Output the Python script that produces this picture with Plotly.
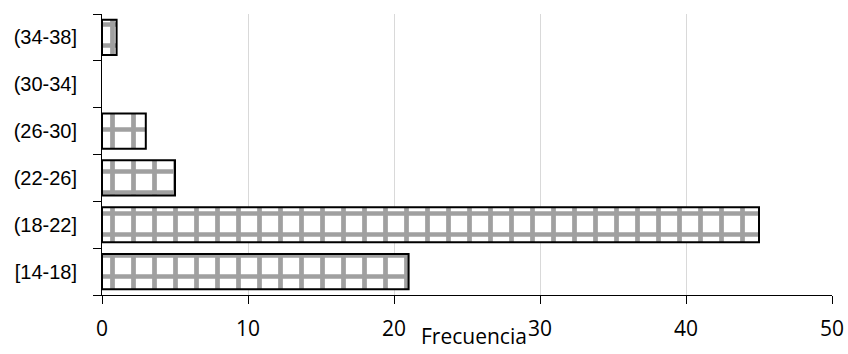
import plotly.graph_objects as go

categories = ["[14-18]", "(18-22]", "(22-26]", "(26-30]", "(30-34]", "(34-38]"]
frecuencia = [21, 45, 5, 3, 0, 1]
x_ticks = [0, 10, 20, 30, 40, 50]

line_widths = [2 if v > 0 else 0 for v in frecuencia]

fig = go.Figure()
fig.add_trace(go.Bar(
    y=categories, x=frecuencia, orientation="h",
    marker=dict(
        color="white",
        line=dict(color="black", width=line_widths),
        pattern=dict(shape="+", fgcolor="#a0a0a0", bgcolor="white", size=21, solidity=0.4, fgopacity=1),
    ),
))

fig.update_layout(
    width=848, height=354,
    margin=dict(l=102, r=16, t=14, b=59),
    paper_bgcolor="white", plot_bgcolor="white",
    showlegend=False, bargap=0.25,
    font=dict(family="Liberation Sans", size=20, color="black"),
)
fig.update_xaxes(
    range=[0, 50], tickvals=x_ticks, ticktext=[str(v) for v in x_ticks],
    showgrid=True, gridcolor="#d9d9d9", gridwidth=1,
    showline=True, linecolor="black", linewidth=1,
    ticks="outside", ticklen=8, tickcolor="black",
    tickfont=dict(family="Open Sans", size=21),
    ticklabelstandoff=7,
    zeroline=False, automargin=False,
)
fig.update_yaxes(
    categoryorder="array", categoryarray=categories,
    showline=True, linecolor="black", linewidth=1,
    ticks="outside", ticklen=8, tickcolor="black", tickson="boundaries",
    tickfont=dict(family="Liberation Sans", size=20),
    ticklabelstandoff=20,
    showgrid=False, automargin=False,
)
fig.add_annotation(
    text="Frecuencia", xref="paper", yref="paper", x=0.509, y=-0.203,
    xanchor="center", yanchor="bottom", showarrow=False,
    font=dict(family="Open Sans", size=21, color="black"),
)
fig.write_html("out.html")
